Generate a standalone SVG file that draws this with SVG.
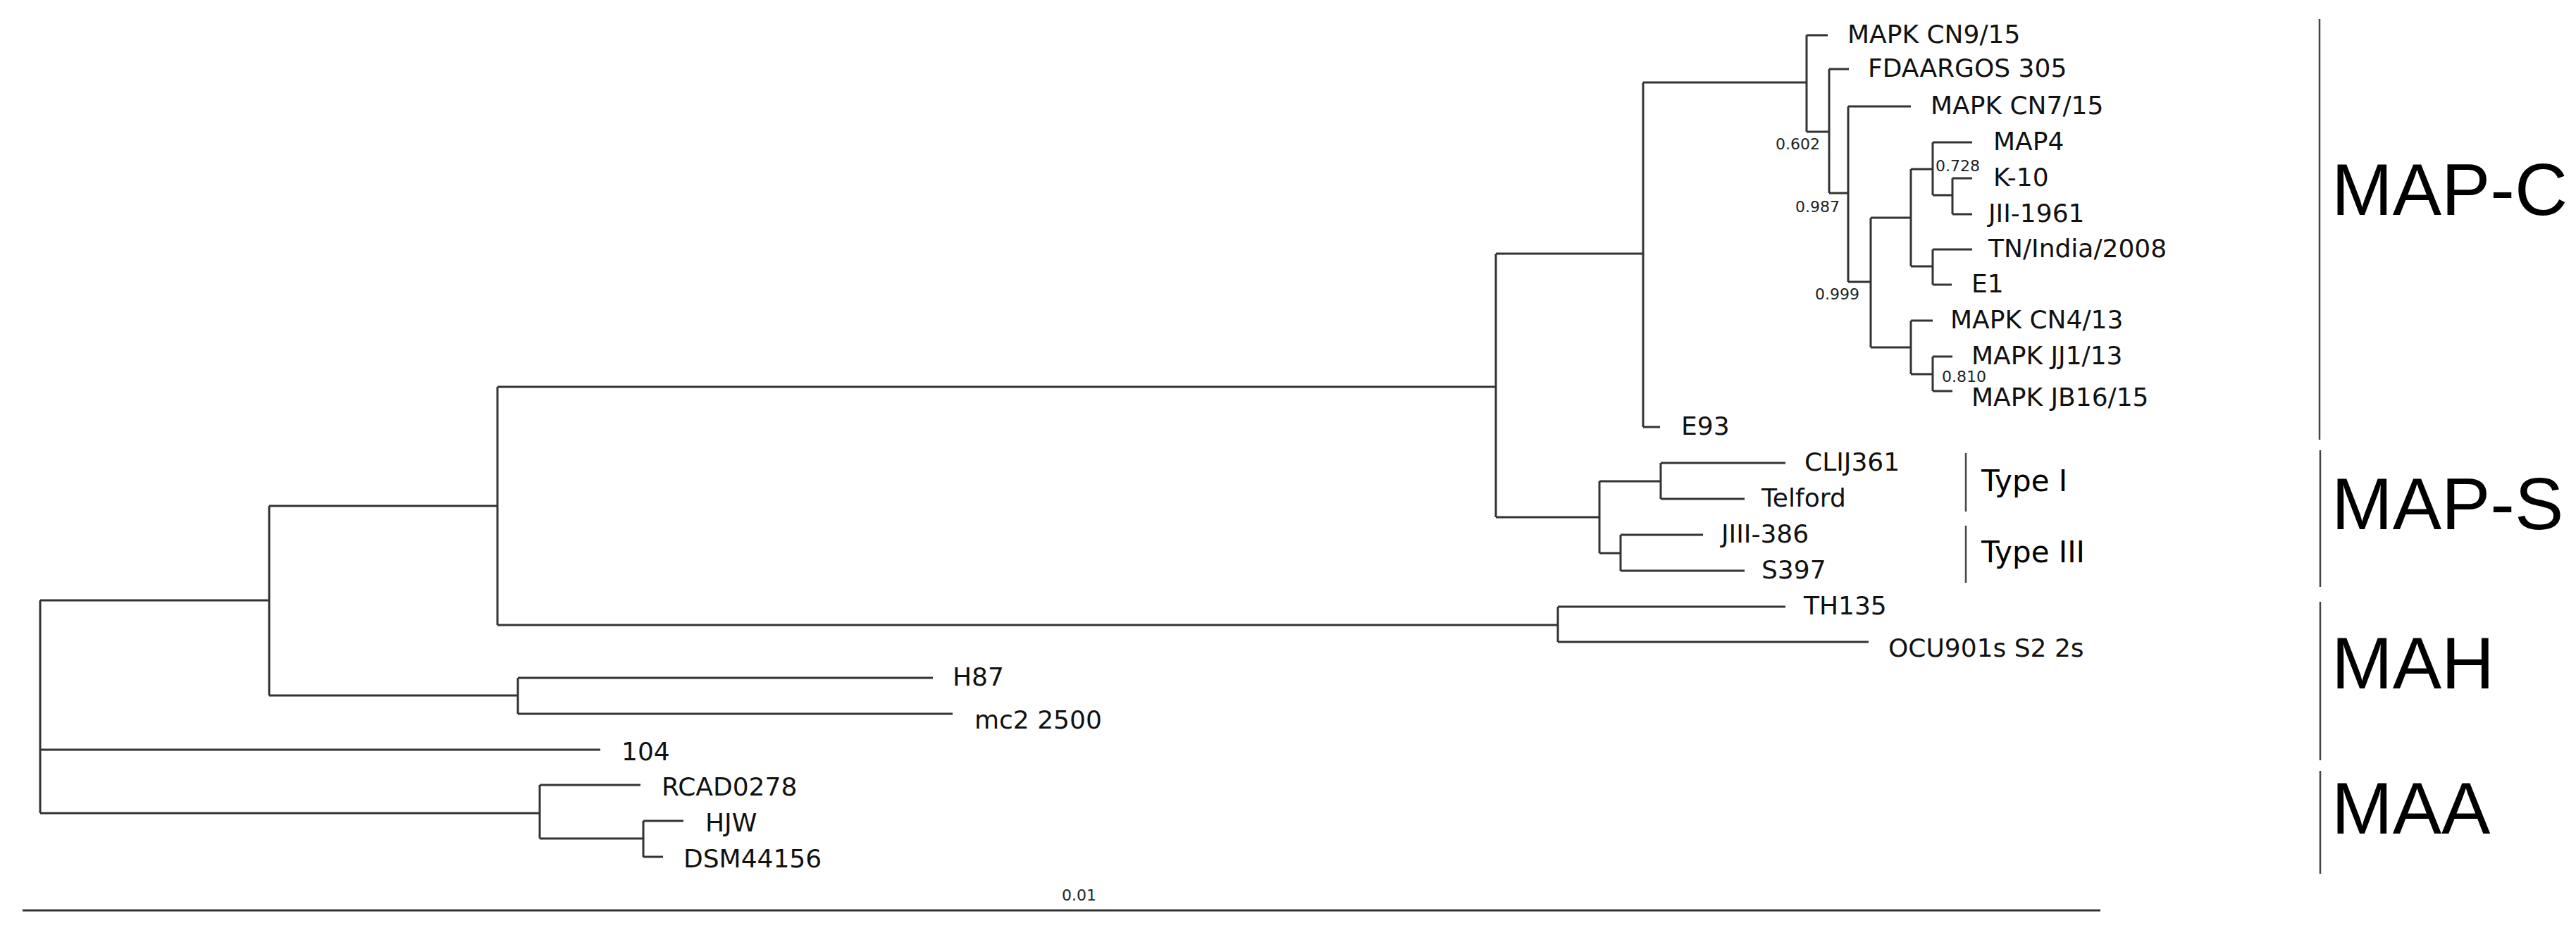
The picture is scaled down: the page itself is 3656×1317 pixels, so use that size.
<svg xmlns="http://www.w3.org/2000/svg" width="3656" height="1317" viewBox="0 0 3656 1317">
<style>
.e{fill:none;stroke:#333;stroke-width:3}
.b{fill:none;stroke:#444;stroke-width:2.5}
.l{font-family:"DejaVu Sans",sans-serif;font-size:36px;fill:#111;dominant-baseline:central}
.s{font-family:"DejaVu Sans",sans-serif;font-size:22px;fill:#222;dominant-baseline:central}
.c{font-family:"Liberation Sans",Arial,sans-serif;font-size:104px;fill:#000}
.t{font-family:"DejaVu Sans",sans-serif;font-size:42px;fill:#000;dominant-baseline:central}
</style>
<rect width="3656" height="1317" fill="#fff"/>
<g id="connectors">
<path class="e" d="M57 852V1154M57 852H382M57 1064H852M57 1154H766"/>
<path class="e" d="M766 1114V1190M766 1114H909M766 1190H913M913 1165V1216M913 1165H970M913 1216H941"/>
<path class="e" d="M382 718V987M382 718H706M382 987H735M735 962V1013M735 962H1324M735 1013H1352"/>
<path class="e" d="M706 549V887M706 549H2123M706 887H2211M2211 861V911M2211 861H2534M2211 911H2652"/>
<path class="e" d="M2123 360V734M2123 360H2332M2123 734H2270"/>
<path class="e" d="M2270 683V785M2270 683H2357M2270 785H2300M2357 657V708M2357 657H2534M2357 708H2476M2300 759V810M2300 759H2417M2300 810H2476"/>
<path class="e" d="M2332 117V606M2332 117H2564M2332 606H2356"/>
<path class="e" d="M2564 50V187M2564 50H2594M2564 187H2596M2596 98V274M2596 98H2624M2596 274H2623M2623 151V400M2623 151H2712M2623 400H2655"/>
<path class="e" d="M2655 309V493M2655 309H2712M2655 493H2712M2712 240V378M2712 240H2743M2712 378H2743M2743 202V277M2743 202H2799M2743 277H2771M2771 253V304M2771 253H2799M2771 304H2799M2743 354V404M2743 354H2799M2743 404H2770"/>
<path class="e" d="M2712 455V531M2712 455H2743M2712 531H2743M2743 506V555M2743 506H2771M2743 555H2771"/>
<path class="e" d="M32 1292H2981"/>
<path class="b" d="M2790 643V726M2790 746V827M3292 27V624M3293 639V833M3293 854V1079M3293 1094V1240"/>
</g>
<g id="leaves">
<text class="l" x="2622" y="48">MAPK CN9/15</text>
<text class="l" x="2651" y="96">FDAARGOS 305</text>
<text class="l" x="2740" y="149">MAPK CN7/15</text>
<text class="l" x="2829" y="200">MAP4</text>
<text class="l" x="2829" y="251">K-10</text>
<text class="l" x="2822" y="302">JII-1961</text>
<text class="l" x="2822" y="352">TN/India/2008</text>
<text class="l" x="2798" y="402">E1</text>
<text class="l" x="2768" y="453">MAPK CN4/13</text>
<text class="l" x="2798" y="504">MAPK JJ1/13</text>
<text class="l" x="2798" y="563">MAPK JB16/15</text>
<text class="l" x="2386" y="604">E93</text>
<text class="l" x="2561" y="655">CLIJ361</text>
<text class="l" x="2500" y="706">Telford</text>
<text class="l" x="2443" y="757">JIII-386</text>
<text class="l" x="2500" y="808">S397</text>
<text class="l" x="2560" y="859">TH135</text>
<text class="l" x="2680" y="919">OCU901s S2 2s</text>
<text class="l" x="1352" y="960">H87</text>
<text class="l" x="1383" y="1021">mc2 2500</text>
<text class="l" x="882" y="1066">104</text>
<text class="l" x="939" y="1116">RCAD0278</text>
<text class="l" x="1001" y="1167">HJW</text>
<text class="l" x="970" y="1218">DSM44156</text>
</g>
<g id="support">
<text class="s" x="2520" y="204">0.602</text>
<text class="s" x="2548" y="293">0.987</text>
<text class="s" x="2576" y="417">0.999</text>
<text class="s" x="2747" y="235">0.728</text>
<text class="s" x="2756" y="534">0.810</text>
<text class="s" x="1507" y="1270">0.01</text>
</g>
<g id="clades">
<text class="t" x="2812" y="682">Type I</text>
<text class="t" x="2812" y="783">Type III</text>
<text class="c" x="3309" y="305">MAP-C</text>
<text class="c" x="3309" y="751">MAP-S</text>
<text class="c" x="3309" y="977">MAH</text>
<text class="c" x="3309" y="1183">MAA</text>
</g>
</svg>
